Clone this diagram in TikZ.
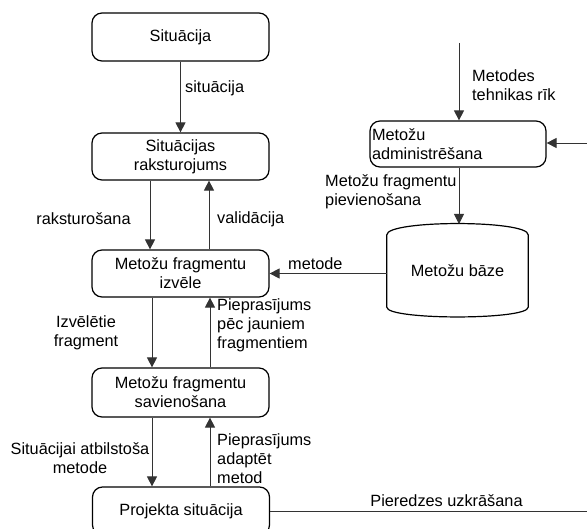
\documentclass[tikz,border=0pt]{standalone}
\usepackage{fontspec}
\setmainfont{Liberation Sans}
\usetikzlibrary{arrows.meta}
\begin{document}
\begin{tikzpicture}[x=1pt,y=-1pt,
  every node/.style={font=\fontsize{16.3}{19}\selectfont, inner sep=0pt},
  proc/.style={draw, line width=1.2pt, rounded corners=10pt, minimum width=177pt, align=center},
  conn/.style={draw=black!80, line width=0.9pt, -{Triangle[length=10pt,width=10pt]}},
  plain/.style={draw=black!80, line width=0.9pt},
]
\useasboundingbox (0,0) rectangle (587,529);
\clip (0,0) rectangle (587,529);

% process chain on the left
\node[proc, minimum height=48pt] (sit) at (180.5,37) {Situācija};
\node[proc, minimum height=47pt] (rak) at (180.5,156.5) {Situācijas\\raksturojums};
\node[proc, minimum height=47pt] (izv) at (180.5,273.5) {Metožu fragmentu\\izvēle};
\node[proc, minimum height=49pt] (sav) at (180.5,392.5) {Metožu fragmentu\\savienošana};
\node[proc, minimum height=48pt] (proj) at (181,511) {Projekta situācija};

% method administration and method base
\node[proc, minimum width=176pt, minimum height=46pt, align=left, text width=172pt, inner xsep=2pt] (adm) at (458,144) {Metožu\\administrēšana};
\node[minimum width=141pt, minimum height=72pt] (base) at (457.5,271) {Metožu bāze};
\draw[line width=1.2pt] (base.north west) .. controls ([yshift=15pt]base.north west) and ([yshift=15pt]base.north east) .. (base.north east)
  -- (base.south east) .. controls ([yshift=-13pt]base.south east) and ([yshift=-13pt]base.south west) .. (base.south west) -- cycle;

% free ends of connectors
\coordinate (toolin) at (459,43);
\coordinate (extin) at (587,143);
\coordinate (expout) at (587,511);
\coordinate (basetop) at (459,224);

% connectors
\draw[conn] (sit) -- (rak);
\draw[conn] ([xshift=-30.5pt]rak.south) -- ([xshift=-30.5pt]izv.north);
\draw[conn] ([xshift=28.5pt]izv.north) -- ([xshift=28.5pt]rak.south);
\draw[conn] ([xshift=-28.5pt]izv.south) -- ([xshift=-28.5pt]sav.north);
\draw[conn] ([xshift=29.5pt]sav.north) -- ([xshift=29.5pt]izv.south);
\draw[conn] ([xshift=-28.5pt]sav.south) -- ([xshift=-29pt]proj.north);
\draw[conn] ([xshift=29pt]proj.north) -- ([xshift=29.5pt]sav.south);
\draw[conn] (toolin) -- (adm.north -| toolin);
\draw[conn] (extin) -- (adm.east |- extin);
\draw[conn] (adm.south -| toolin) -- (basetop);
\draw[conn] (izv.east -| base.west) -- (izv.east);
\draw[plain] (proj.east) -- (expout);

% connector labels
\node[anchor=west] (lsit) at (185,88) {situācija};
\node (lrak) at (83.5,219) {raksturošana};
\node[anchor=west] (lval) at (217,219) {validācija};
\node[align=center] (lizv) at (86,333) {Izvēlētie\\fragment};
\node[anchor=west, align=left] (lpiep1) at (217,325) {Pieprasījums\\pēc jauniem\\fragmentiem};
\node[align=center] (lsat) at (80,458) {Situācijai atbilstoša\\metode};
\node[anchor=west, align=left] (lpiep2) at (217,459) {Pieprasījums\\adaptēt\\metod};
\node[anchor=west, align=left] (lmet) at (472,85) {Metodes\\tehnikas rīk};
\node[anchor=west, align=left] (lpiev) at (325,192) {Metožu fragmentu\\pievienošana};
\node[anchor=west] (lmetode) at (288,264) {metode};
\node (lpier) at (446.5,501) {Pieredzes uzkrāšana};
\end{tikzpicture}
\end{document}
